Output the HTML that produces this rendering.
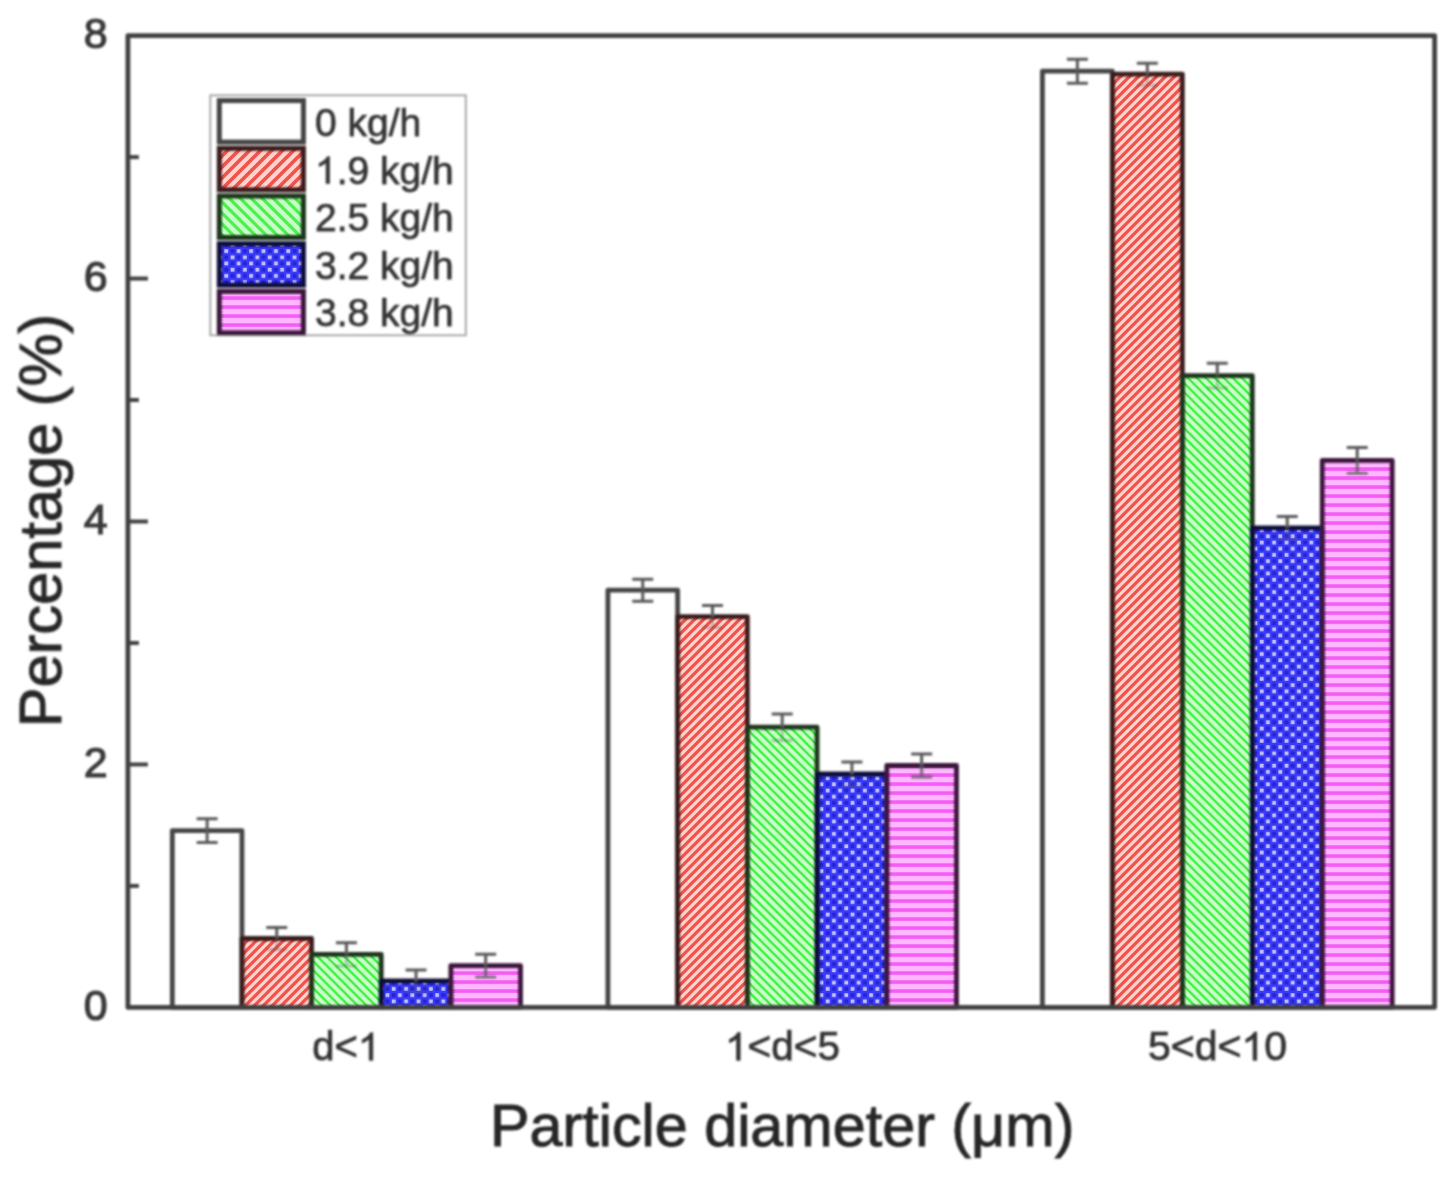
<!DOCTYPE html>
<html><head><meta charset="utf-8"><style>
html,body{margin:0;padding:0;background:#fff;}
svg{display:block;}
text{font-family:"Liberation Sans",sans-serif;}
.tt{fill:#262626;stroke:#262626;stroke-width:0.95px;}
.tk{fill:#3a3a3a;stroke:#3a3a3a;stroke-width:1.2px;}
.lg{fill:#363636;stroke:#363636;stroke-width:0.75px;}
.ct{fill:#333;stroke:#333;stroke-width:0.75px;}
.one{fill-opacity:0;stroke-opacity:0;}
</style></head><body>
<svg width="1453" height="1178" viewBox="0 0 1453 1178">
<defs>
<filter id="bl" filterUnits="userSpaceOnUse" x="0" y="0" width="1453" height="1178"><feGaussianBlur stdDeviation="0.8"/></filter>
<pattern id="pr" patternUnits="userSpaceOnUse" width="9.0" height="9.0">
 <rect width="9.0" height="9.0" fill="#ffd4ce"/>
 <path d="M-2.25,2.25 L2.25,-2.25 M-2.25,11.25 L11.25,-2.25 M6.75,11.25 L11.25,6.75" stroke="#f0524c" stroke-width="3.24"/>
</pattern>
<pattern id="pg" patternUnits="userSpaceOnUse" width="9.0" height="9.0">
 <rect width="9.0" height="9.0" fill="#c8ffc8"/>
 <path d="M-2.25,6.75 L2.25,11.25 M-2.25,-2.25 L11.25,11.25 M6.75,-2.25 L11.25,2.25" stroke="#4cf04c" stroke-width="2.65"/>
</pattern>
<pattern id="prl" patternUnits="userSpaceOnUse" width="11.0" height="11.0" x="1" y="3">
 <rect width="11.0" height="11.0" fill="#ffd4ce"/>
 <path d="M-2.75,2.75 L2.75,-2.75 M-2.75,13.75 L13.75,-2.75 M8.25,13.75 L13.75,8.25" stroke="#f0524c" stroke-width="3.7"/>
</pattern>
<pattern id="pgl" patternUnits="userSpaceOnUse" width="11.0" height="11.0" x="1" y="3">
 <rect width="11.0" height="11.0" fill="#c8ffc8"/>
 <path d="M-2.75,8.25 L2.75,13.75 M-2.75,-2.75 L13.75,13.75 M8.25,-2.75 L13.75,2.75" stroke="#4cf04c" stroke-width="3.2"/>
</pattern>
<pattern id="pb" patternUnits="userSpaceOnUse" width="12.4" height="12.4">
 <rect width="12.4" height="12.4" fill="#3a3af8"/>
 <rect x="1.2" y="1.2" width="3.8" height="3.8" fill="#c0c0ff"/>
 <rect x="7.4" y="7.4" width="3.8" height="3.8" fill="#c0c0ff"/>
 <rect x="7.4" y="1.2" width="3.8" height="3.8" fill="#2424d4"/>
 <rect x="1.2" y="7.4" width="3.8" height="3.8" fill="#2424d4"/>
</pattern>
<pattern id="pm" patternUnits="userSpaceOnUse" width="9" height="9" y="1.1">
 <rect width="9" height="9" fill="#ffb8ff"/>
 <rect y="-1.8" width="9" height="3.6" fill="#f45cf4"/>
 <rect y="7.2" width="9" height="3.6" fill="#f45cf4"/>
</pattern>
</defs>
<rect width="1453" height="1178" fill="#fff"/>
<rect x="172.30" y="830.60" width="69.64" height="176.80" fill="#ffffff"/>
<rect x="241.94" y="938.50" width="69.64" height="68.90" fill="url(#pr)"/>
<rect x="311.58" y="954.40" width="69.64" height="53.00" fill="url(#pg)"/>
<rect x="381.22" y="981.00" width="69.64" height="26.40" fill="url(#pb)"/>
<rect x="450.86" y="965.60" width="69.64" height="41.80" fill="url(#pm)"/>
<rect x="607.90" y="590.20" width="69.72" height="417.20" fill="#ffffff"/>
<rect x="677.62" y="616.60" width="69.72" height="390.80" fill="url(#pr)"/>
<rect x="747.34" y="727.20" width="69.72" height="280.20" fill="url(#pg)"/>
<rect x="817.06" y="774.00" width="69.72" height="233.40" fill="url(#pb)"/>
<rect x="886.78" y="765.50" width="69.72" height="241.90" fill="url(#pm)"/>
<rect x="1042.40" y="71.20" width="69.96" height="936.20" fill="#ffffff"/>
<rect x="1112.36" y="74.20" width="69.96" height="933.20" fill="url(#pr)"/>
<rect x="1182.32" y="375.60" width="69.96" height="631.80" fill="url(#pg)"/>
<rect x="1252.28" y="527.80" width="69.96" height="479.60" fill="url(#pb)"/>
<rect x="1322.24" y="460.30" width="69.96" height="547.10" fill="url(#pm)"/>
<rect x="219.3" y="100.60" width="84.1" height="41.5" fill="#ffffff"/>
<rect x="219.3" y="148.30" width="84.1" height="41.5" fill="url(#prl)"/>
<rect x="219.3" y="196.00" width="84.1" height="41.5" fill="url(#pgl)"/>
<rect x="219.3" y="243.70" width="84.1" height="41.5" fill="url(#pb)"/>
<rect x="219.3" y="291.40" width="84.1" height="41.5" fill="url(#pm)"/>
<g filter="url(#bl)">
<rect x="172.30" y="830.60" width="69.64" height="176.80" fill="none" stroke="#444444" stroke-width="4.8" stroke-linejoin="round"/>
<rect x="241.94" y="938.50" width="69.64" height="68.90" fill="none" stroke="#3a1c1c" stroke-width="4.8" stroke-linejoin="round"/>
<rect x="311.58" y="954.40" width="69.64" height="53.00" fill="none" stroke="#1a361a" stroke-width="4.8" stroke-linejoin="round"/>
<rect x="381.22" y="981.00" width="69.64" height="26.40" fill="none" stroke="#0e0e3a" stroke-width="4.8" stroke-linejoin="round"/>
<rect x="450.86" y="965.60" width="69.64" height="41.80" fill="none" stroke="#3a163a" stroke-width="4.8" stroke-linejoin="round"/>
<rect x="607.90" y="590.20" width="69.72" height="417.20" fill="none" stroke="#444444" stroke-width="4.8" stroke-linejoin="round"/>
<rect x="677.62" y="616.60" width="69.72" height="390.80" fill="none" stroke="#3a1c1c" stroke-width="4.8" stroke-linejoin="round"/>
<rect x="747.34" y="727.20" width="69.72" height="280.20" fill="none" stroke="#1a361a" stroke-width="4.8" stroke-linejoin="round"/>
<rect x="817.06" y="774.00" width="69.72" height="233.40" fill="none" stroke="#0e0e3a" stroke-width="4.8" stroke-linejoin="round"/>
<rect x="886.78" y="765.50" width="69.72" height="241.90" fill="none" stroke="#3a163a" stroke-width="4.8" stroke-linejoin="round"/>
<rect x="1042.40" y="71.20" width="69.96" height="936.20" fill="none" stroke="#444444" stroke-width="4.8" stroke-linejoin="round"/>
<rect x="1112.36" y="74.20" width="69.96" height="933.20" fill="none" stroke="#3a1c1c" stroke-width="4.8" stroke-linejoin="round"/>
<rect x="1182.32" y="375.60" width="69.96" height="631.80" fill="none" stroke="#1a361a" stroke-width="4.8" stroke-linejoin="round"/>
<rect x="1252.28" y="527.80" width="69.96" height="479.60" fill="none" stroke="#0e0e3a" stroke-width="4.8" stroke-linejoin="round"/>
<rect x="1322.24" y="460.30" width="69.96" height="547.10" fill="none" stroke="#3a163a" stroke-width="4.8" stroke-linejoin="round"/>
<path d="M207.12,818.70 V830.60 M196.62,818.70 H217.62" stroke="#5a5a5a" stroke-width="3" fill="none"/>
<path d="M207.12,830.60 V842.50 M196.62,842.50 H217.62" stroke="#5a5a5a" stroke-width="3" fill="none" opacity="1"/>
<path d="M276.76,927.60 V938.50 M266.26,927.60 H287.26" stroke="#5a5a5a" stroke-width="3" fill="none"/>
<path d="M276.76,938.50 V949.40 M266.26,949.40 H287.26" stroke="#5a5a5a" stroke-width="3" fill="none" opacity="0.35"/>
<path d="M346.40,942.80 V954.40 M335.90,942.80 H356.90" stroke="#5a5a5a" stroke-width="3" fill="none"/>
<path d="M346.40,954.40 V966.00 M335.90,966.00 H356.90" stroke="#5a5a5a" stroke-width="3" fill="none" opacity="0.35"/>
<path d="M416.04,970.00 V981.00 M405.54,970.00 H426.54" stroke="#5a5a5a" stroke-width="3" fill="none"/>
<path d="M416.04,981.00 V992.00 M405.54,992.00 H426.54" stroke="#5a5a5a" stroke-width="3" fill="none" opacity="0.3"/>
<path d="M485.68,954.30 V965.60 M475.18,954.30 H496.18" stroke="#5a5a5a" stroke-width="3" fill="none"/>
<path d="M485.68,965.60 V976.90 M475.18,976.90 H496.18" stroke="#5a5a5a" stroke-width="3" fill="none" opacity="0.8"/>
<path d="M642.76,579.20 V590.20 M632.26,579.20 H653.26" stroke="#5a5a5a" stroke-width="3" fill="none"/>
<path d="M642.76,590.20 V601.20 M632.26,601.20 H653.26" stroke="#5a5a5a" stroke-width="3" fill="none" opacity="1"/>
<path d="M712.48,605.60 V616.60 M701.98,605.60 H722.98" stroke="#5a5a5a" stroke-width="3" fill="none"/>
<path d="M712.48,616.60 V627.60 M701.98,627.60 H722.98" stroke="#5a5a5a" stroke-width="3" fill="none" opacity="0.35"/>
<path d="M782.20,714.00 V727.20 M771.70,714.00 H792.70" stroke="#5a5a5a" stroke-width="3" fill="none"/>
<path d="M782.20,727.20 V740.40 M771.70,740.40 H792.70" stroke="#5a5a5a" stroke-width="3" fill="none" opacity="0.35"/>
<path d="M851.92,762.10 V774.00 M841.42,762.10 H862.42" stroke="#5a5a5a" stroke-width="3" fill="none"/>
<path d="M851.92,774.00 V785.90 M841.42,785.90 H862.42" stroke="#5a5a5a" stroke-width="3" fill="none" opacity="0.3"/>
<path d="M921.64,753.90 V765.50 M911.14,753.90 H932.14" stroke="#5a5a5a" stroke-width="3" fill="none"/>
<path d="M921.64,765.50 V777.10 M911.14,777.10 H932.14" stroke="#5a5a5a" stroke-width="3" fill="none" opacity="0.8"/>
<path d="M1077.38,59.20 V71.20 M1066.88,59.20 H1087.88" stroke="#5a5a5a" stroke-width="3" fill="none"/>
<path d="M1077.38,71.20 V83.20 M1066.88,83.20 H1087.88" stroke="#5a5a5a" stroke-width="3" fill="none" opacity="1"/>
<path d="M1147.34,63.20 V74.20 M1136.84,63.20 H1157.84" stroke="#5a5a5a" stroke-width="3" fill="none"/>
<path d="M1147.34,74.20 V85.20 M1136.84,85.20 H1157.84" stroke="#5a5a5a" stroke-width="3" fill="none" opacity="0.35"/>
<path d="M1217.30,363.20 V375.60 M1206.80,363.20 H1227.80" stroke="#5a5a5a" stroke-width="3" fill="none"/>
<path d="M1217.30,375.60 V388.00 M1206.80,388.00 H1227.80" stroke="#5a5a5a" stroke-width="3" fill="none" opacity="0.35"/>
<path d="M1287.26,516.40 V527.80 M1276.76,516.40 H1297.76" stroke="#5a5a5a" stroke-width="3" fill="none"/>
<path d="M1287.26,527.80 V539.20 M1276.76,539.20 H1297.76" stroke="#5a5a5a" stroke-width="3" fill="none" opacity="0.3"/>
<path d="M1357.22,447.40 V460.30 M1346.72,447.40 H1367.72" stroke="#5a5a5a" stroke-width="3" fill="none"/>
<path d="M1357.22,460.30 V473.20 M1346.72,473.20 H1367.72" stroke="#5a5a5a" stroke-width="3" fill="none" opacity="0.8"/>
<rect x="127.9" y="35.6" width="1306.70" height="971.80" fill="none" stroke="#404040" stroke-width="4.8" stroke-linejoin="round"/>
<path d="M127.9,885.92 H138.9" stroke="#404040" stroke-width="4"/>
<path d="M127.9,764.45 H147.9" stroke="#404040" stroke-width="4"/>
<path d="M127.9,642.98 H138.9" stroke="#404040" stroke-width="4"/>
<path d="M127.9,521.50 H147.9" stroke="#404040" stroke-width="4"/>
<path d="M127.9,400.02 H138.9" stroke="#404040" stroke-width="4"/>
<path d="M127.9,278.55 H147.9" stroke="#404040" stroke-width="4"/>
<path d="M127.9,157.08 H138.9" stroke="#404040" stroke-width="4"/>
<text class="tk" x="107.6" y="1019.80" font-size="43" text-anchor="end">0</text>
<text class="tk" x="107.6" y="776.85" font-size="43" text-anchor="end">2</text>
<text class="tk" x="107.6" y="533.90" font-size="43" text-anchor="end">4</text>
<text class="tk" x="107.6" y="290.95" font-size="43" text-anchor="end">6</text>
<text class="tk" x="107.6" y="48.00" font-size="43" text-anchor="end">8</text>
<rect x="210.3" y="95.3" width="255.50" height="240.00" fill="none" stroke="#a8a8a8" stroke-width="2"/>
<rect x="219.3" y="100.60" width="84.1" height="41.5" fill="none" stroke="#444444" stroke-width="5"/>
<text class="lg" x="315" y="135.90" font-size="39">0 kg/h</text>
<rect x="219.3" y="148.30" width="84.1" height="41.5" fill="none" stroke="#3a1c1c" stroke-width="5"/>
<text class="lg" x="315" y="183.50" font-size="39"><tspan class="one">1</tspan>.9 kg/h</text>
<rect x="219.3" y="196.00" width="84.1" height="41.5" fill="none" stroke="#1a361a" stroke-width="5"/>
<text class="lg" x="315" y="231.10" font-size="39">2.5 kg/h</text>
<rect x="219.3" y="243.70" width="84.1" height="41.5" fill="none" stroke="#0e0e3a" stroke-width="5"/>
<text class="lg" x="315" y="278.70" font-size="39">3.2 kg/h</text>
<rect x="219.3" y="291.40" width="84.1" height="41.5" fill="none" stroke="#3a163a" stroke-width="5"/>
<text class="lg" x="315" y="326.30" font-size="39">3.8 kg/h</text>
<text class="ct" x="346.2" y="1060.3" font-size="40" text-anchor="middle">d&lt;<tspan class="one">1</tspan></text>
<text class="ct" x="782.5" y="1060.3" font-size="40.5" text-anchor="middle"><tspan class="one">1</tspan>&lt;d&lt;5</text>
<text class="ct" x="1217.5" y="1060.3" font-size="41" text-anchor="middle">5&lt;d&lt;<tspan class="one">1</tspan>0</text>
<text class="tt" x="490" y="1145.6" font-size="59.3">Particle diameter (μm)</text>
<text class="tt" transform="translate(61.0,727.2) rotate(-90)" font-size="59.5">Percentage (%)</text>
<path class="lg" d="M329.53,183.50L326.10,183.50L326.10,162.59Q324.86,163.72 322.86,164.85Q320.85,165.98 319.25,166.55L319.25,163.38Q322.12,162.08 324.27,160.24Q326.43,158.40 327.32,156.67L329.53,156.67Z"/>
<path class="ct" d="M372.78,1060.30L369.27,1060.30L369.27,1038.86Q368.00,1040.02 365.94,1041.17Q363.88,1042.33 362.24,1042.91L362.24,1039.66Q365.18,1038.33 367.39,1036.44Q369.60,1034.56 370.52,1032.78L372.78,1032.78Z"/>
<path class="ct" d="M740.14,1060.30L736.58,1060.30L736.58,1038.59Q735.30,1039.76 733.21,1040.94Q731.13,1042.11 729.46,1042.70L729.46,1039.40Q732.45,1038.06 734.69,1036.15Q736.92,1034.23 737.85,1032.44L740.14,1032.44Z"/>
<path class="ct" d="M1256.71,1060.30L1253.11,1060.30L1253.11,1038.32Q1251.81,1039.51 1249.70,1040.70Q1247.58,1041.88 1245.90,1042.48L1245.90,1039.14Q1248.92,1037.78 1251.19,1035.85Q1253.45,1033.91 1254.39,1032.09L1256.71,1032.09Z"/>
</g>
</svg>
</body></html>
